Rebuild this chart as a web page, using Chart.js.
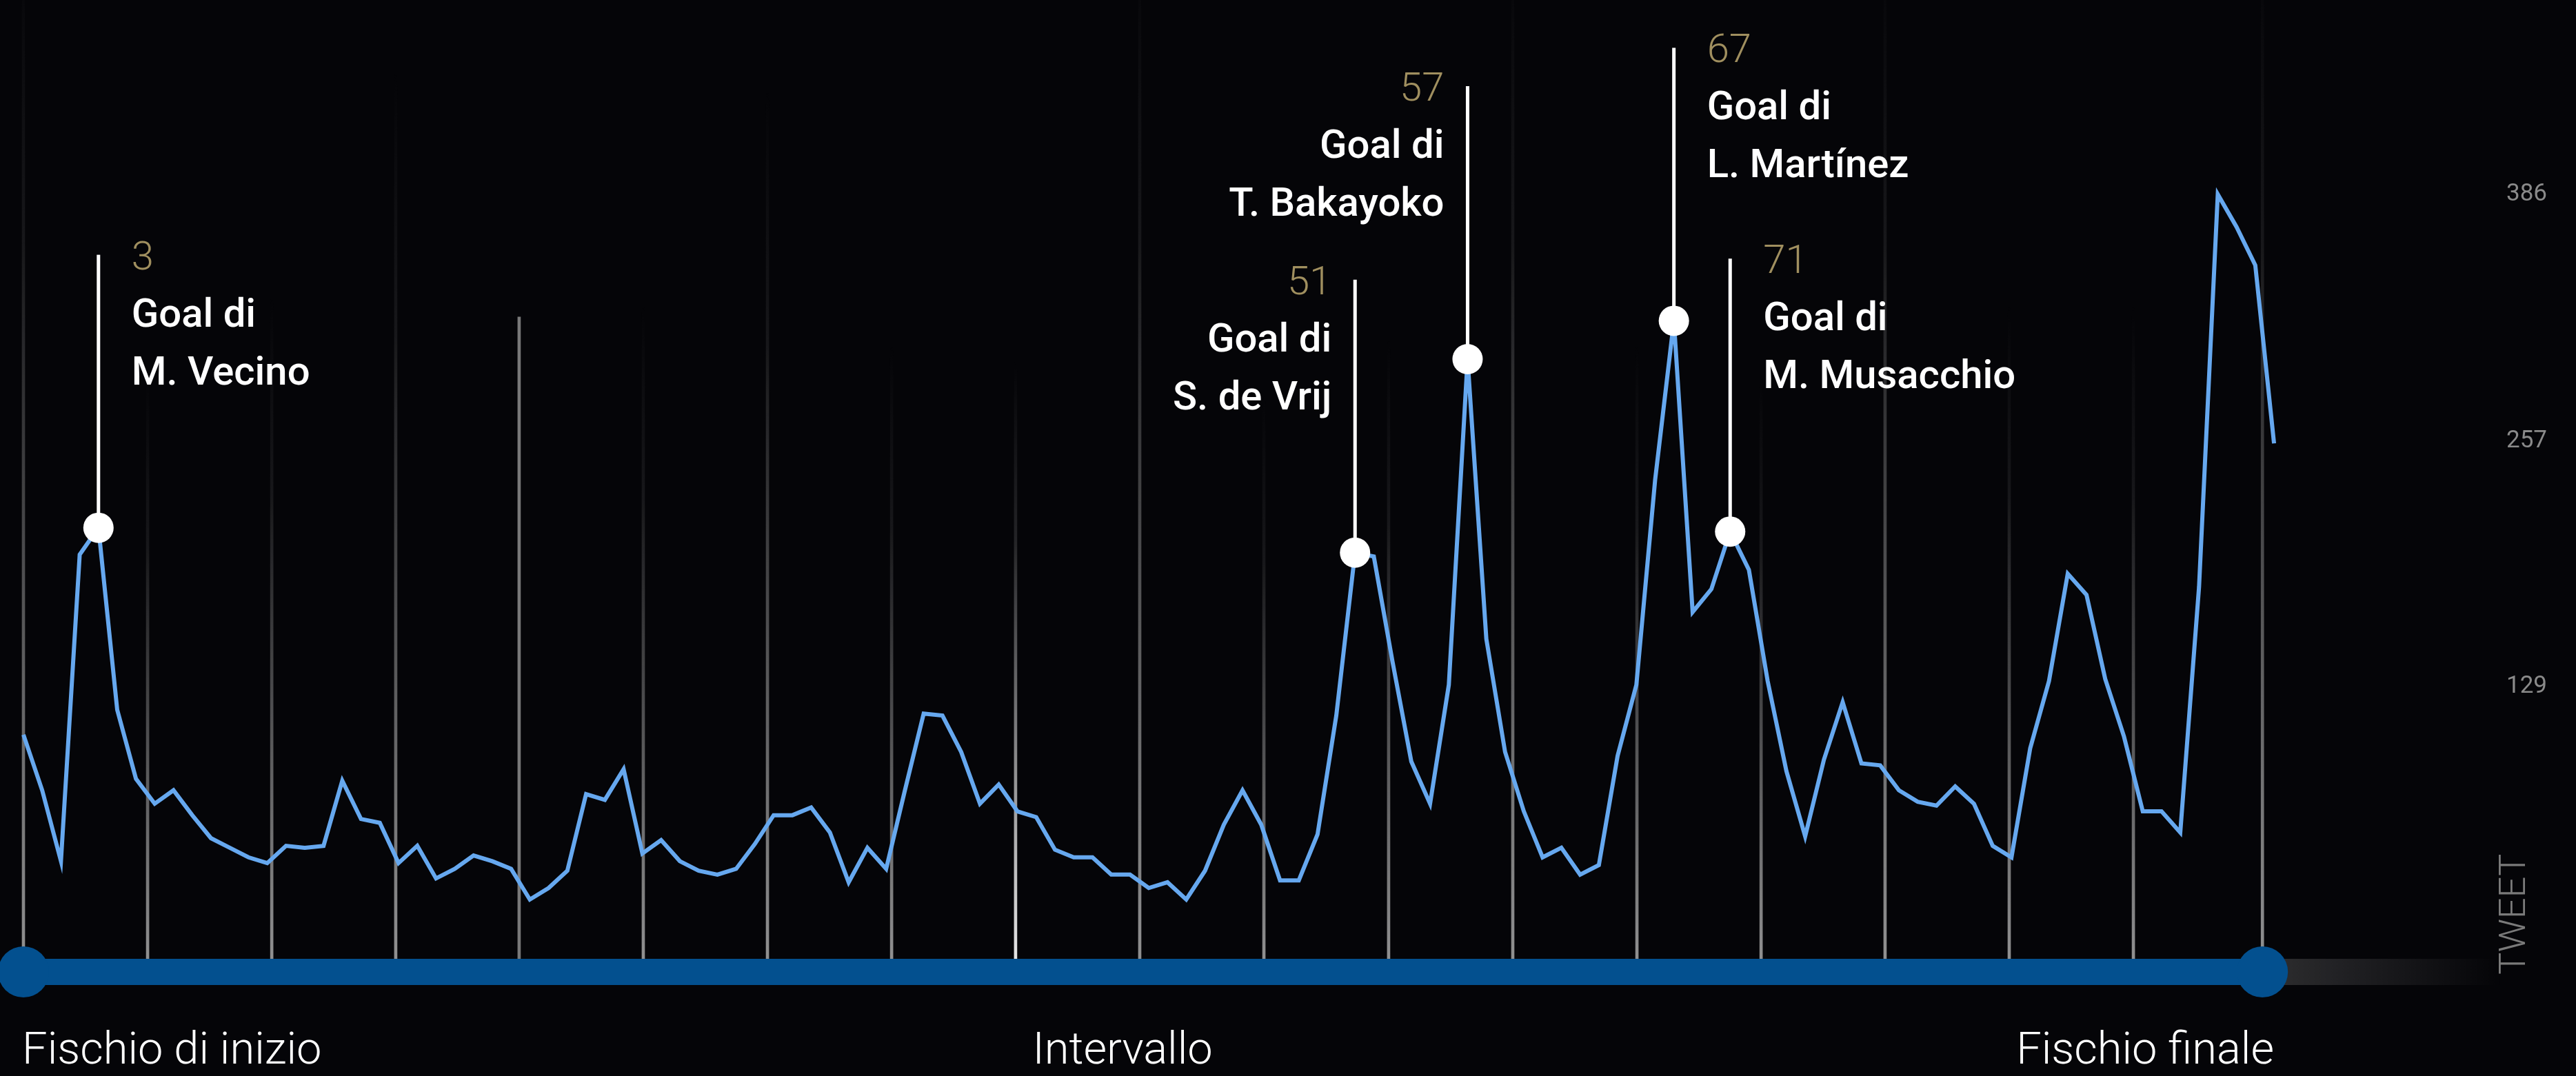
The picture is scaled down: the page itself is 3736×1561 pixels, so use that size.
<!DOCTYPE html>
<html lang="it">
<head>
<meta charset="utf-8">
<title>Tweet durante la partita</title>
<script src="https://cdn.jsdelivr.net/npm/chart.js@4.4.1/dist/chart.umd.min.js"></script>
<style>
  html, body { margin: 0; padding: 0; background: #050508; }
  #wrap { width: 3736px; height: 1561px; }
</style>
</head>
<body>
<div id="wrap"><canvas id="tweetChart" width="3736" height="1561"></canvas></div>
<script>
// tweets per minute, from the first minute of the match to the last
const tweets = [
  104, 75, 38, 198, 212, 117, 81, 68, 75, 62,
  50, 45, 40, 37, 46, 45, 46, 80, 60, 58,
  37, 46, 29, 34, 41, 38, 34, 18, 24, 33,
  73, 70, 86, 42, 49, 38, 33, 31, 34, 47,
  62, 62, 66, 53, 27, 45, 34, 75, 115, 114,
  95, 68, 78, 64, 61, 44, 40, 40, 31, 31,
  24, 27, 18, 33, 57, 75, 57, 28, 28, 52,
  114, 199, 197, 142, 90, 68, 130, 300, 154, 95,
  64, 40, 45, 31, 36, 93, 130, 237, 320, 168,
  180, 210, 190, 132, 85, 51, 91, 121, 89, 88,
  75, 69, 67, 77, 68, 46, 40, 97, 132, 188,
  177, 133, 103, 64, 64, 53, 181, 386, 369, 349,
  256
];

const yTicks = [129, 257, 386];

// goals: match minute, point of the series, scorer
const goalMinutes = ["3", "51", "57", "67", "71"];
const goalIndex = [4, 71, 77, 88, 91];
const goalScorers = ["M. Vecino", "S. de Vrij", "T. Bakayoko", "L. Martínez", "M. Musacchio"];
const goalTextLeft = [false, true, true, false, false];

// background time markers (position on the series, height in tweets)
const markerAt = [0, 6.62, 13.24, 19.85, 26.43, 33.05, 39.67, 46.29, 52.9, 59.52,
  66.14, 72.79, 79.41, 86.03, 92.65, 99.26, 105.88, 112.5, 119.38];
const markerTops = [520, 293, 333, 451, 322, 329, 441, 308, 300, 520,
  282, 311, 520, 308, 293, 520, 329, 329, 520];

const phaseLabels = ["Fischio di inizio", "Intervallo", "Fischio finale"];
const phaseAt = [-0.07, 53.8, 120];
const kickoffAt = 0;
const fullTimeAt = 119.38;

const halfTimeMarker = 8;
const solidMarker = 4;
const markerBase = -13;

function markerFill(c) {
  const chart = c.chart;
  const y = chart.scales.y;
  if (!y || c.type !== "data") return "rgba(150,150,150,0.6)";
  const k = c.dataIndex;
  if (k === solidMarker) return "rgba(150,150,150,0.8)";
  const top = y.getPixelForValue(markerTops[k]);
  const bottom = y.getPixelForValue(markerBase);
  if (!Number.isFinite(top) || !Number.isFinite(bottom) || top === bottom) {
    return "rgba(150,150,150,0.5)";
  }
  const rgb = k === halfTimeMarker ? "255,255,255" : "160,160,160";
  const g = chart.ctx.createLinearGradient(0, top, 0, bottom);
  g.addColorStop(0, `rgba(${rgb},0)`);
  g.addColorStop(0.3, `rgba(${rgb},0.12)`);
  g.addColorStop(1, `rgba(${rgb},0.9)`);
  return g;
}

const timelinePlugin = {
  id: "timeline",
  afterDatasetsDraw(chart) {
    const { ctx, chartArea, scales: { x, y } } = chart;
    const trackY = y.getPixelForValue(0) + 55;
    const x0 = x.getPixelForValue(kickoffAt);
    const x1 = x.getPixelForValue(fullTimeAt);
    ctx.save();

    // rest of the track, fading out
    const fadeEnd = chartArea.right + 30;
    const fade = ctx.createLinearGradient(x1, 0, fadeEnd, 0);
    fade.addColorStop(0, "rgba(255,255,255,0.17)");
    fade.addColorStop(1, "rgba(255,255,255,0)");
    ctx.fillStyle = fade;
    ctx.fillRect(x1, trackY - 19, fadeEnd - x1, 38);

    // played time
    ctx.fillStyle = "#03508f";
    ctx.fillRect(x0, trackY - 19, x1 - x0, 38);
    [x0, x1].forEach((cx) => {
      ctx.beginPath();
      ctx.arc(cx, trackY, 37, 0, Math.PI * 2);
      ctx.fill();
    });

    // goals
    goalIndex.forEach((idx, i) => {
      const px = x.getPixelForValue(idx);
      const py = y.getPixelForValue(tweets[idx]);
      const top = py - 396;
      ctx.fillStyle = "#ffffff";
      ctx.fillRect(px - 2.5, top, 5, py - top);
      ctx.beginPath();
      ctx.arc(px, py, 22, 0, Math.PI * 2);
      ctx.fill();

      const left = goalTextLeft[i];
      const tx = left ? px - 34 : px + 48;
      ctx.textAlign = left ? "right" : "left";
      ctx.textBaseline = "alphabetic";
      ctx.font = "300 58px Roboto";
      ctx.fillStyle = "#a08f5f";
      ctx.fillText(goalMinutes[i], tx, top + 21);
      ctx.font = "500 58px Roboto";
      ctx.fillStyle = "#ffffff";
      ctx.fillText("Goal di", tx, top + 104);
      ctx.fillText(goalScorers[i], tx, top + 188);
    });

    // phases of the match
    ctx.font = "300 65px Roboto";
    ctx.fillStyle = "#ffffff";
    phaseLabels.forEach((label, i) => {
      ctx.textAlign = i === phaseLabels.length - 1 ? "right" : "left";
      ctx.fillText(label, x.getPixelForValue(phaseAt[i]), trackY + 133);
    });

    // axis title, reading upwards
    ctx.translate(chartArea.right + 62, trackY + 4);
    ctx.rotate(-Math.PI / 2);
    ctx.textAlign = "left";
    ctx.font = "300 54px Roboto";
    ctx.fillStyle = "#7a7a7a";
    ctx.fillText("TWEET", 0, 0);
    ctx.restore();
  },
};

const tweetChart = new Chart(document.getElementById("tweetChart"), {
  type: "line",
  data: {
    datasets: [
      {
        type: "bar",
        data: markerAt.map((at, k) => ({ x: at, y: [markerBase, markerTops[k]] })),
        barThickness: 4,
        borderWidth: 0,
        backgroundColor: markerFill,
        order: 2,
      },
      {
        data: tweets.map((v, i) => ({ x: i, y: v })),
        borderColor: "#66a8ef",
        borderWidth: 6,
        pointRadius: 0,
        tension: 0,
        order: 1,
      },
    ],
  },
  options: {
    responsive: false,
    devicePixelRatio: 1,
    animation: false,
    layout: { padding: 0 },
    plugins: {
      legend: { display: false },
      tooltip: { enabled: false },
    },
    scales: {
      x: {
        type: "linear",
        display: false,
        offset: false,
        min: -1.25,
        max: 131.1,
      },
      y: {
        type: "linear",
        position: "right",
        min: -74.1,
        max: 487.4,
        grid: { display: false },
        border: { display: false },
        ticks: {
          color: "#8a8a8a",
          padding: 27,
          font: { family: "Roboto", size: 35 },
        },
        afterBuildTicks: (scale) => {
          scale.ticks = yTicks.map((v) => ({ value: v }));
        },
        afterFit: (scale) => {
          scale.width = 136;
          scale.paddingTop = 0;
          scale.paddingBottom = 0;
        },
      },
    },
  },
  plugins: [timelinePlugin],
});
</script>
</body>
</html>
